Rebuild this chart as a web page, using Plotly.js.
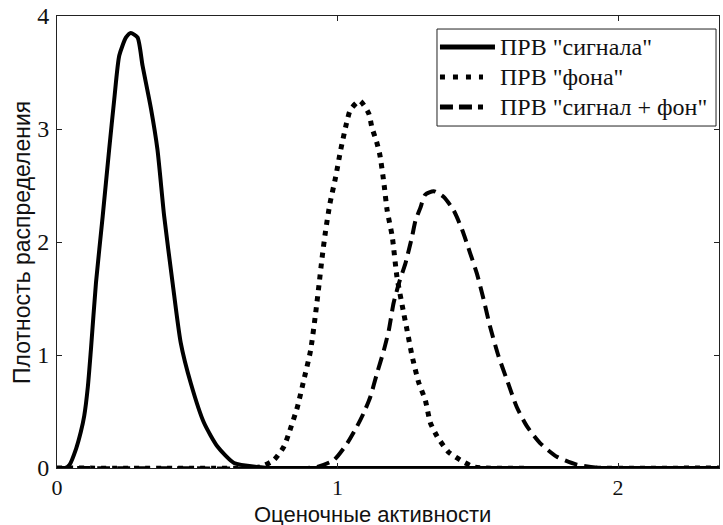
<!DOCTYPE html>
<html>
<head>
<meta charset="utf-8">
<script src="https://cdn.plot.ly/plotly-3.0.1.min.js"></script>
<style>html,body{margin:0;padding:0;background:#fff;}#chart{width:723px;height:525px;}</style>
</head>
<body>
<div id="chart"></div>
<script>
// Signal PDF (solid)
const signalX = [0, 0.03, 0.045, 0.068, 0.085, 0.097, 0.11, 0.121, 0.139, 0.163, 0.186, 0.204, 0.222, 0.246, 0.263, 0.287, 0.305, 0.335, 0.358, 0.382, 0.412, 0.441, 0.477, 0.524, 0.572, 0.631, 0.714, 0.78, 2.36];
const signalY = [0, 0, 0.03, 0.17, 0.32, 0.46, 0.72, 1.05, 1.64, 2.23, 2.82, 3.26, 3.65, 3.81, 3.85, 3.81, 3.56, 3.18, 2.82, 2.23, 1.64, 1.11, 0.75, 0.40, 0.19, 0.045, 0.01, 0, 0];
// Background PDF (dotted)
const backX = [0, 0.68, 0.726, 0.773, 0.809, 0.827, 0.857, 0.880, 0.904, 0.922, 0.934, 0.945, 0.957, 0.973, 0.993, 1.011, 1.032, 1.046, 1.079, 1.111, 1.123, 1.139, 1.151, 1.165, 1.177, 1.195, 1.212, 1.236, 1.248, 1.266, 1.289, 1.313, 1.331, 1.355, 1.396, 1.438, 1.485, 1.53, 2.36];
const backY = [0, 0, 0.01, 0.07, 0.19, 0.31, 0.54, 0.78, 1.04, 1.37, 1.62, 1.86, 2.09, 2.34, 2.57, 2.81, 3.05, 3.17, 3.25, 3.14, 3.01, 2.89, 2.77, 2.53, 2.28, 2.05, 1.69, 1.37, 1.22, 0.99, 0.76, 0.60, 0.40, 0.28, 0.14, 0.07, 0.01, 0, 0];
// Signal + background PDF (dashed)
const sumX = [0, 0.88, 0.928, 0.987, 1.035, 1.070, 1.094, 1.117, 1.141, 1.165, 1.183, 1.200, 1.222, 1.242, 1.266, 1.278, 1.295, 1.313, 1.343, 1.378, 1.414, 1.444, 1.473, 1.497, 1.521, 1.544, 1.574, 1.604, 1.639, 1.675, 1.722, 1.782, 1.853, 1.936, 2.36];
const sumY = [0, 0, 0.01, 0.07, 0.22, 0.37, 0.49, 0.63, 0.84, 1.04, 1.22, 1.46, 1.66, 1.81, 2.05, 2.19, 2.30, 2.42, 2.45, 2.40, 2.28, 2.11, 1.90, 1.72, 1.49, 1.25, 0.99, 0.78, 0.54, 0.37, 0.22, 0.10, 0.03, 0, 0];

const seriesNames = ['ПРВ "сигнала"', 'ПРВ "фона"', 'ПРВ "сигнал + фон"'];
const xTicks = [0, 1, 2];
const yTicks = [0, 1, 2, 3, 4];
const xTitle = 'Оценочные активности';
const yTitle = 'Плотность распределения';

const serif = 'Liberation Serif';
const sans = 'Liberation Sans';

const dashes = ['solid', '5px,6px', '13px,7px'];

const traces = [
  {x: sumX, y: sumY, name: seriesNames[2], mode: 'lines', line: {color: '#000', width: 4, dash: dashes[2], shape: 'spline', smoothing: 0.6}},
  {x: backX, y: backY, name: seriesNames[1], mode: 'lines', line: {color: '#000', width: 5, dash: dashes[1], shape: 'spline', smoothing: 0.6}},
  {x: signalX, y: signalY, name: seriesNames[0], mode: 'lines', line: {color: '#000', width: 4, shape: 'spline', smoothing: 0.6}}
];

// Legend drawn in paper coordinates (box, samples, labels)
const legendRows = [0.9314, 0.865, 0.7987];
const legendSampleDash = ['solid', '5px,8px', '13px,6px'];
const legendSampleEnd = [0.6616, 0.6435, 0.6435];
const shapes = [
  {type: 'rect', xref: 'paper', yref: 'paper', x0: 0.574, x1: 0.9955, y0: 0.7566, y1: 0.9712, line: {color: '#222', width: 1}, fillcolor: '#fff', layer: 'above'}
];
seriesNames.forEach((n, i) => {
  shapes.push({type: 'line', xref: 'paper', yref: 'paper', x0: 0.5785, x1: legendSampleEnd[i], y0: legendRows[i], y1: legendRows[i], line: {color: '#000', width: 5, dash: legendSampleDash[i]}, layer: 'above'});
});
const annotations = [
  {text: xTitle, xref: 'paper', yref: 'paper', x: 0.477, y: -0.1018, xanchor: 'center', yanchor: 'middle', height: 22, valign: 'middle', borderpad: 0, showarrow: false, font: {family: sans, size: 22, color: '#111'}},
  {text: yTitle, xref: 'paper', yref: 'paper', x: -0.053, y: 0.5, xanchor: 'center', yanchor: 'middle', textangle: -90, showarrow: false, font: {family: sans, size: 23, color: '#111'}}
];
seriesNames.forEach((n, i) => {
  annotations.push({text: n, xref: 'paper', yref: 'paper', x: 0.666, y: legendRows[i], xanchor: 'left', yanchor: 'middle', showarrow: false, font: {family: serif, size: 24, color: '#111'}});
});

const layout = {
  width: 723, height: 525,
  margin: {l: 57, r: 4, t: 16, b: 57, pad: 0},
  paper_bgcolor: '#fff', plot_bgcolor: '#fff',
  showlegend: false,
  xaxis: {
    range: [0, 2.36], tickvals: xTicks, ticktext: xTicks.map(String),
    ticks: 'inside', ticklen: 5, tickcolor: '#222', tickwidth: 1,
    showline: true, linecolor: '#222', linewidth: 1, mirror: 'ticks',
    showgrid: false, zeroline: false,
    tickfont: {family: serif, size: 22, color: '#111'}, ticklabelstandoff: 0
  },
  yaxis: {
    range: [0, 4], tickvals: yTicks, ticktext: yTicks.map(String),
    ticks: 'inside', ticklen: 5, tickcolor: '#222', tickwidth: 1,
    showline: true, linecolor: '#222', linewidth: 1, mirror: 'ticks',
    showgrid: false, zeroline: false,
    tickfont: {family: serif, size: 24, color: '#111'}, ticklabelstandoff: 2
  },
  shapes: shapes,
  annotations: annotations
};

Plotly.newPlot('chart', traces, layout, {displayModeBar: false, staticPlot: true});
</script>
</body>
</html>
